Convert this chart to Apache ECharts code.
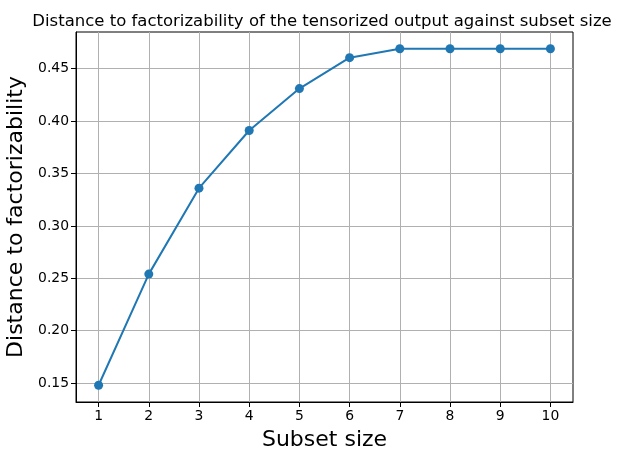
<!DOCTYPE html>
<html><head><meta charset="utf-8">
<script src="https://cdn.jsdelivr.net/npm/echarts@6/dist/echarts.min.js"></script>
<style>html,body{margin:0;padding:0;background:#fff}#c{width:625px;height:461px}</style>
</head><body><div id="c"></div>
<script>
const subsetSizes = [1, 2, 3, 4, 5, 6, 7, 8, 9, 10];
const distances = [0.148, 0.254, 0.336, 0.391, 0.431, 0.4605, 0.469, 0.469, 0.469, 0.469];
const yTicks = [0.15, 0.20, 0.25, 0.30, 0.35, 0.40, 0.45];
const xTicks = [1, 2, 3, 4, 5, 6, 7, 8, 9, 10];

const font = 'DejaVu Sans';
const chart = echarts.init(document.getElementById('c'), null, {renderer: 'canvas'});
chart.setOption({
  animation: false,
  title: {
    text: 'Distance to factorizability of the tensorized output against subset size',
    left: 317, top: 8, textAlign: 'center',
    textStyle: {fontFamily: font, fontSize: 16.5, fontWeight: 'normal', color: '#000'}
  },
  grid: {left: 76, right: 52, top: 32, bottom: 59, show: true, borderColor: '#000', borderWidth: 1,
    containLabel: false, outerBoundsMode: 'none'},
  xAxis: {
    type: 'value', min: 0.55, max: 10.45,
    name: 'Subset size', nameLocation: 'middle', nameGap: 27,
    nameTextStyle: {fontFamily: font, fontSize: 22, color: '#000'},
    axisLine: {show: true, onZero: false, lineStyle: {color: '#000'}},
    axisTick: {show: true, length: 5, customValues: xTicks, lineStyle: {color: '#000'}},
    axisLabel: {customValues: xTicks, fontFamily: font, fontSize: 13.9, color: '#000', margin: 7},
    splitLine: {show: true, lineStyle: {color: '#b0b0b0', width: 1}}
  },
  yAxis: {
    type: 'value', min: 0.132, max: 0.485,
    name: 'Distance to factorizability', nameLocation: 'middle', nameGap: 46,
    nameTextStyle: {fontFamily: font, fontSize: 22, color: '#000'},
    axisLine: {show: true, onZero: false, lineStyle: {color: '#000'}},
    axisTick: {show: true, length: 5, customValues: yTicks, lineStyle: {color: '#000'}},
    axisLabel: {customValues: yTicks, fontFamily: font, fontSize: 13.9, color: '#000', margin: 7,
      formatter: v => v.toFixed(2)},
    splitLine: {show: true, lineStyle: {color: '#b0b0b0', width: 1}}
  },
  series: [{
    type: 'line',
    data: subsetSizes.map((x, i) => [x, distances[i]]),
    symbol: 'circle', symbolSize: 9,
    itemStyle: {color: '#1f77b4'},
    lineStyle: {color: '#1f77b4', width: 2}
  }]
});
</script></body></html>
